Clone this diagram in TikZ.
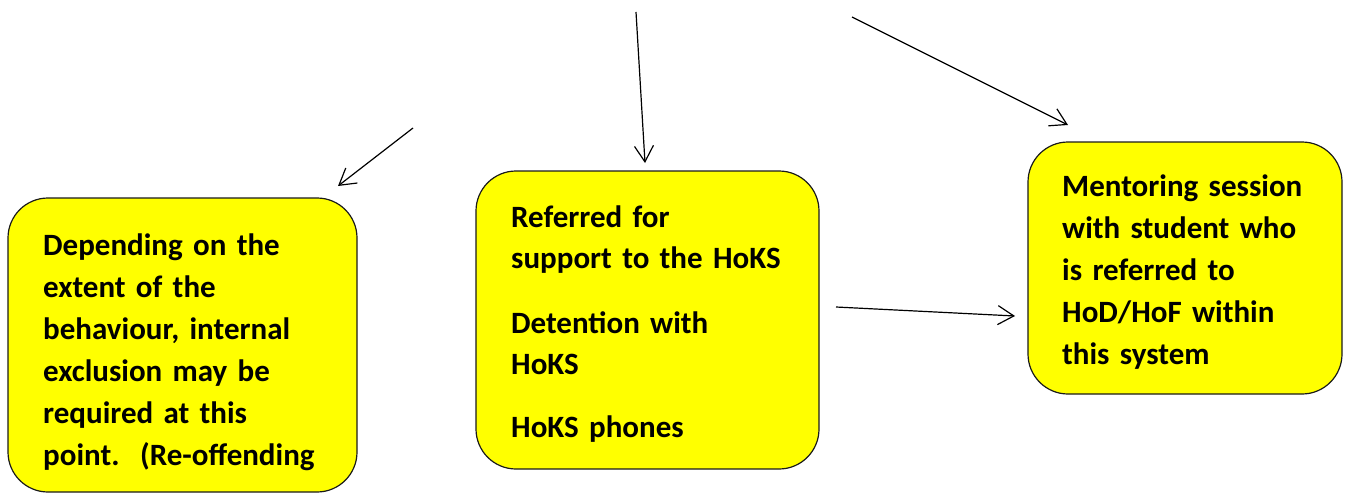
\documentclass[tikz,border=0pt]{standalone}
\usepackage{fontspec}
\setmainfont{Carlito}
\usetikzlibrary{arrows.meta}
\definecolor{boxyellow}{HTML}{FFFF00}
\definecolor{edgegray}{HTML}{1A1A1A}
\begin{document}
\begin{tikzpicture}[x=1pt,y=-1pt,
  yellowbox/.style={draw=edgegray,line width=1.2pt,fill=boxyellow,rounded corners=40pt,inner sep=0pt},
  boxtext/.style={anchor=base west,inner sep=0pt,text width=320pt,align=left,
    font=\fontsize{31}{42}\selectfont\bfseries},
  arrowline/.style={line width=1.2pt,-{Straight Barb[length=16pt,width=19pt,line width=1.2pt]}}]
\useasboundingbox (0,0) rectangle (1348,495);
% boxes
\node[yellowbox,minimum width=349pt,minimum height=294pt] (left) at (182.5,345) {};
\node[yellowbox,minimum width=343pt,minimum height=298pt] (mid) at (647.5,320) {};
\node[yellowbox,minimum width=314pt,minimum height=252pt] (right) at (1185,268) {};
% texts
\node[boxtext] (lefttext) at (43,255) {Depending on the\\extent of the\\behaviour, internal\\exclusion may be\\required at this\\point.\ \ (Re-offending};
\node[boxtext,font=\fontsize{31}{41}\selectfont\bfseries] (midtext) at (511,227) {Referred for\\support to the HoKS\\[24pt]Detention with\\HoKS\\[22pt]HoKS phones};
\node[boxtext] (righttext) at (1062,196) {Mentoring session\\with student who\\is referred to\\HoD/HoF within\\this system};
% arrow end points
\coordinate (a1s) at (413,128);
\coordinate (a1e) at (338,186);
\coordinate (a2s) at (636,12);
\coordinate (a2e) at (645,163);
\coordinate (a3s) at (852,17);
\coordinate (a3e) at (1068,125);
\coordinate (a4s) at (836,307);
\coordinate (a4e) at (1015,316);
\draw[arrowline] (a1s) -- (a1e);
\draw[arrowline] (a2s) -- (a2e);
\draw[arrowline] (a3s) -- (a3e);
\draw[arrowline] (a4s) -- (a4e);
\end{tikzpicture}
\end{document}
